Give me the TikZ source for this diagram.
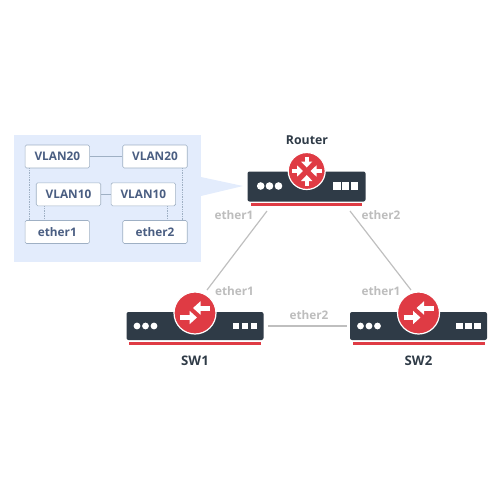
\documentclass[tikz,border=0pt]{standalone}
\usepackage{fontspec}
\setmainfont{Open Sans}
\usepackage{xcolor}
\usetikzlibrary{positioning, arrows.meta}
\definecolor{bodydark}{HTML}{2F3B47}
\definecolor{alertred}{HTML}{DF3B44}
\definecolor{panelblue}{HTML}{E3ECFC}
\definecolor{vlantext}{HTML}{4A5E82}
\definecolor{vlanline}{HTML}{9FB0C4}
\definecolor{portgray}{HTML}{BDBDBD}
\definecolor{linkgray}{HTML}{BFBFBF}

\begin{document}
\begin{tikzpicture}[
    x=1pt, y=-1pt,
    panel/.style={fill=panelblue, minimum width=187pt, minimum height=127pt, inner sep=0pt},
    vlan/.style={draw=vlanline, fill=white, rounded corners=1.5pt, line width=0.6pt, minimum width=64.5pt,
                 minimum height=23pt, inner sep=0pt, font=\fontsize{11.8}{13}\selectfont\bfseries, text=vlantext},
    body/.style={fill=bodydark, rounded corners=2pt, minimum height=30pt, inner sep=0pt},
    redbar/.style={fill=alertred, minimum height=3pt, inner sep=0pt},
    badge/.style={circle, fill=alertred, draw=white, line width=1.2pt, inner sep=0pt},
    title/.style={font=\fontsize{12.3}{14}\selectfont\bfseries, text=bodydark},
    swtitle/.style={title, font=\fontsize{13.2}{15}\selectfont\bfseries},
    port/.style={font=\fontsize{11.8}{13}\selectfont\bfseries, text=portgray},
    link/.style={draw=linkgray, line width=1.2pt},
    trunk/.style={draw=vlanline, line width=0.7pt},
    access/.style={draw=vlanline, line width=0.7pt, densely dotted},
    flow/.style={white, line width=3.6pt, -{Triangle[length=6pt, width=11pt]}},
    flowbig/.style={white, line width=5pt, -{Triangle[length=7.5pt, width=13pt]}},
]
\useasboundingbox (0,0) rectangle (500,500);

% vlan panel
\node[panel] (vlanpanel) at (107.5,198.5) {};
\coordinate (tailtop) at (201,177);
\coordinate (tailbot) at (201,196);
\coordinate (tailtip) at (243,186);
\fill[panelblue] (tailtop) -- (tailtip) -- (tailbot) -- cycle;

\node[vlan] (vlan20a) at (57.3,156.5) {VLAN20};
\node[vlan] (vlan20b) at (155,156.5) {VLAN20};
\node[vlan] (vlan10a) at (68.5,194.3) {VLAN10};
\node[vlan] (vlan10b) at (143.3,194.3) {VLAN10};
\node[vlan] (eth1) at (57.3,232) {ether1};
\node[vlan] (eth2) at (155,232) {ether2};

\draw[trunk] (vlan20a) -- (vlan20b);
\draw[trunk] (vlan10a) -- (vlan10b);
\draw[access] (vlan20a.south west) ++(5,0) coordinate (a1) -- (a1 |- eth1.north);
\draw[access] (vlan10a.south west) ++(8.5,0) coordinate (a2) -- (a2 |- eth1.north);
\draw[access] (vlan10b.south east) ++(-8.5,0) coordinate (a3) -- (a3 |- eth2.north);
\draw[access] (vlan20b.south east) ++(-5.5,0) coordinate (a4) -- (a4 |- eth2.north);

% router
\node[title] (routerlabel) at (307,140) {Router};
\node[body, minimum width=118pt] (router) at (306.5,186.5) {};
\node[redbar, minimum width=111pt, below=1.5pt of router] (routerbar) {};
\node[badge, minimum size=37pt] (routerbadge) at (306.7,171) {};

% switches
\node[body, minimum width=137pt, minimum height=28pt] (sw1) at (195,326) {};
\node[redbar, minimum width=132pt, below=1.5pt of sw1] (sw1bar) {};
\node[badge, minimum size=42pt] (sw1badge) at (195,313) {};
\node[swtitle, below=7pt of sw1bar] (sw1label) {SW1};

\node[body, minimum width=137pt, minimum height=28pt] (sw2) at (418.5,326) {};
\node[redbar, minimum width=132pt, below=1.5pt of sw2] (sw2bar) {};
\node[badge, minimum size=42pt] (sw2badge) at (418.5,313) {};
\node[swtitle, below=7pt of sw2bar] (sw2label) {SW2};

% front panel dots and squares
\foreach \x in {260.7, 269.5, 278.5}
    \fill[white] (\x,186) circle (3.8);
\foreach \x in {137, 145.5, 154, 360.5, 369, 377.5}
    \fill[white] (\x,326) circle (3.4);
\foreach \x in {337, 345.7, 354.7}
    \fill[white] (\x-3.7,182.3) rectangle (\x+3.7,189.7);
\foreach \x in {236, 245, 254, 459.5, 468.5, 477.5}
    \fill[white] (\x-3.4,322.6) rectangle (\x+3.4,329.4);

% arrows in the badges
\draw[flow] (306.7,156.5) -- (306.7,167.5);
\draw[flow] (306.7,186) -- (306.7,175);
\draw[flow] (291.5,171) -- (303,171);
\draw[flow] (322,171) -- (310.5,171);
\draw[flowbig] (210,308) -- (193,308);
\draw[flowbig] (180,317.5) -- (197,317.5);
\draw[flowbig] (433.5,308) -- (416.5,308);
\draw[flowbig] (403.5,317.5) -- (420.5,317.5);

% links
\coordinate (r1) at (267,211);
\coordinate (s1) at (207,290);
\coordinate (r2) at (350,211);
\coordinate (s2) at (411,290);
\coordinate (e1) at (268,326);
\coordinate (e2) at (347,326);
\draw[link] (r1) -- (s1);
\draw[link] (r2) -- (s2);
\draw[link] (e1) -- (e2);

\node[port] (pr1) at (234,215) {ether1};
\node[port] (pr2) at (381,215) {ether2};
\node[port] (ps1) at (234.5,291) {ether1};
\node[port] (ps2) at (381,291) {ether1};
\node[port] (pe2) at (309,315) {ether2};

\end{tikzpicture}
\end{document}
